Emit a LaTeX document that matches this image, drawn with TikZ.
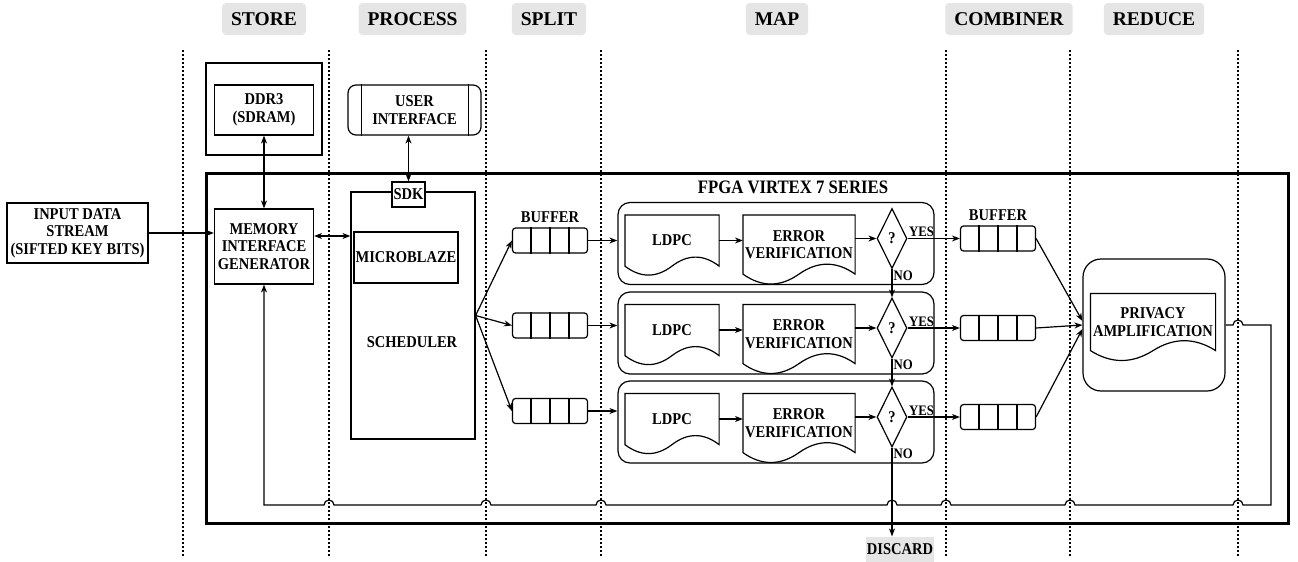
\documentclass[tikz,border=0pt]{standalone}
\usepackage{fontspec}
\setmainfont{Liberation Serif}[FakeStretch=0.88]
\newfontfamily\hdrfont{Liberation Serif}
\usepackage{tikz}
\usetikzlibrary{
	arrows.meta,
	calc,
	shapes.geometric,
	positioning
}

\newcommand{\txtsz}{\fontsize{16.5}{17.5}\selectfont\bfseries}
\newcommand{\hdrsz}{\hdrfont\fontsize{19.5}{22}\selectfont\bfseries}
\newcommand{\ttlsz}{\fontsize{19}{21}\selectfont\bfseries}
\newcommand{\ynsz}{\fontsize{14.5}{16}\selectfont\bfseries}

% 文档形状（波浪底边）
\newcommand{\docshape}[2][20]{%
	\draw (#2.north west) -- (#2.north east) -- (#2.south east)
	.. controls ($(#2.south east)!1/6!(#2.south west)+(0,-0.6*#1)$) and ($(#2.south)!1/3!(#2.south east)+(0,-0.6*#1)$) .. (#2.south)
	.. controls ($(#2.south)!1/3!(#2.south west)+(0,0.6*#1)$) and ($(#2.south west)!1/6!(#2.south east)+(0,0.6*#1)$) .. (#2.south west) -- cycle;}
% 缓冲区格子
\newcommand{\bufcells}[1]{%
	\foreach \k in {1,2,3}
	\draw ($(#1.north west)!\k/4!(#1.north east)$) -- ($(#1.south west)!\k/4!(#1.south east)$);}

\tikzset{
	box/.style={draw, font=\txtsz, align=center, inner sep=0pt},
	hdr/.style={fill=black!10, rounded corners=4pt, font=\hdrsz, minimum height=32pt, inner xsep=9pt},
	lane/.style={line width=1.6pt, dash pattern=on 1.6pt off 2.4pt},
	flow/.style={-{Stealth[length=8pt,width=6pt]}},
	dflow/.style={{Stealth[length=8pt,width=6pt]}-{Stealth[length=8pt,width=6pt]}},
	mapbox/.style={draw, rounded corners=12pt, minimum width=316pt, minimum height=82pt},
	bufbox/.style={draw, rounded corners=3pt, minimum width=75pt, minimum height=25pt},
	doc/.style={font=\txtsz, align=center, inner sep=0pt},
	dec/.style={draw, diamond, minimum width=30pt, minimum height=60pt, inner sep=0pt, font=\txtsz},
	yn/.style={font=\ynsz, inner sep=1pt}
}

\begin{document}
\begin{tikzpicture}[x=1pt, y=-1pt, line width=1.2pt]
	\useasboundingbox (0,0) rectangle (1298,562);
	% 阶段标题
	\node[hdr] (hstore) at (264,19) {STORE};
	\node[hdr] (hproc) at (412.5,19) {PROCESS};
	\node[hdr] (hsplit) at (549,19) {SPLIT};
	\node[hdr] (hmap) at (777,19) {MAP};
	\node[hdr] (hcomb) at (1009,19) {COMBINER};
	\node[hdr] (hred) at (1154,19) {REDUCE};
	% 分隔虚线
	\foreach \x in {183,329,486,601,946,1070,1238}
	\draw[lane] (\x,50) -- (\x,556);
	% 外部存储与用户接口
	\node[draw, minimum width=116pt, minimum height=92pt] (ddrbox) at (264,109) {};
	\node[box, minimum width=99pt, minimum height=50pt] (ddr) at (264,110) {DDR3\\(SDRAM)};
	\node[box, rounded corners=8pt, minimum width=133pt, minimum height=50pt] (ui) at (414.5,110) {USER\\INTERFACE};
	\draw ([xshift=14pt]ui.north west) -- ([xshift=14pt]ui.south west);
	\draw ([xshift=-13pt]ui.north east) -- ([xshift=-13pt]ui.south east);
	% FPGA 边框
	\node[draw, line width=3pt, minimum width=1082pt, minimum height=350pt] (fpga) at (747,348) {};
	\node[font=\ttlsz] (fpgattl) at (793,187) {FPGA VIRTEX 7 SERIES};
	% 输入与存储接口
	\node[box, minimum width=141pt, minimum height=60pt] (input) at (77.5,233) {INPUT DATA\\STREAM\\(SIFTED KEY BITS)};
	\node[box, minimum width=99pt, minimum height=75pt] (mig) at (264,246.5) {MEMORY\\INTERFACE\\GENERATOR};
	% 调度器
	\node[draw, minimum width=124pt, minimum height=247pt] (sched) at (413,315.5) {};
	\node[box, fill=white, minimum width=33pt, minimum height=25pt] (sdk) at (408.5,194.5) {SDK};
	\node[box, minimum width=104pt, minimum height=51pt] (micro) at (406,257.5) {MICROBLAZE};
	\node[font=\txtsz] (schedtxt) at (412,342) {SCHEDULER};
	\draw[flow] (input.east) -- (input.east -| mig.west);
	\draw[dflow] (ddr.south) -- (ddr.south |- mig.north);
	\draw[dflow] (sdk.north |- ui.south) -- (sdk.north);
	\draw[dflow] ([yshift=10.5pt]mig.east) -- ([yshift=10.5pt]mig.east -| sched.west);
	% MAP 三行
	\foreach \r/\yc in {1/243.5,2/333,3/422}{
		\node[mapbox] (row\r) at (776,\yc) {};
		\node[doc, minimum width=93pt, minimum height=50pt] (ldpc\r) at (672,\yc-3) {LDPC};
		\docshape[20]{ldpc\r}
		\node[doc, minimum width=111pt, minimum height=58pt] (ev\r) at (799,\yc+1) {ERROR\\VERIFICATION};
		\docshape[22]{ev\r}
		\node[dec] (dia\r) at (892,\yc-5) {?};
		\node[yn, anchor=south west] (yes\r) at (dia\r.east) {YES};
		\node[yn, anchor=north west] (no\r) at (dia\r.south) {NO};
		\draw[flow] (ldpc\r.east) -- (ldpc\r.east -| ev\r.west);
		\draw[flow] (dia\r.west -| ev\r.east) -- (dia\r.west);
		\node[bufbox] (cb\r) at (998,\yc-5) {};
		\bufcells{cb\r}
		\draw[flow] (dia\r.east) -- (cb\r.west);
	}
	% SPLIT 缓冲区
	\foreach \r/\yb in {1/240.5,2/325.5,3/411}{
		\node[bufbox] (sb\r) at (550,\yb) {};
		\bufcells{sb\r}
		\draw[flow] (sched.east) -- (sb\r.west);
		\draw[flow] (sb\r.east) -- (sb\r.east -| row\r.west);
	}
	\node[font=\txtsz, inner sep=0pt, above=4pt of sb1] (sblbl) {BUFFER};
	\node[font=\txtsz, inner sep=0pt, above=4pt of cb1] (cblbl) {BUFFER};
	% 丢弃
	\node[fill=black!10, font=\txtsz, minimum width=68pt, minimum height=25pt, inner sep=1pt] (discard) at (900,549.5) {DISCARD};
	\draw[flow] (dia1.south) -- (dia2.north);
	\draw[flow] (dia2.south) -- (dia3.north);
	\draw[flow] (dia3.south) -- (dia3.south |- discard.north);
	% 隐私放大
	\node[draw, rounded corners=18pt, minimum width=142pt, minimum height=132pt] (pa) at (1154,325) {};
	\node[doc, minimum width=124pt, minimum height=56pt] (pamp) at (1153,322) {PRIVACY\\AMPLIFICATION};
	\docshape[22]{pamp}
	\draw[flow] (cb1.east) -- ([yshift=4pt]pa.west);
	\draw[flow] (cb2.east) -- (pa.west);
	\draw[flow] (cb3.east) -- ([yshift=-4pt]pa.west);
	% 反馈线
	\coordinate (fbtr) at (1271,325);
	\coordinate (fbbr) at (1271,505);
	\draw[flow] (pa.east) -- (1233,325) arc[start angle=180, end angle=360, radius=5] -- (fbtr) -- (fbbr)
	foreach \c in {1238,1070,946,892,601,486,329} { -- (\c+5,505) arc[start angle=0, end angle=-180, radius=5] }
	-- (mig.south |- fbbr) -- (mig.south);
\end{tikzpicture}
\end{document}
